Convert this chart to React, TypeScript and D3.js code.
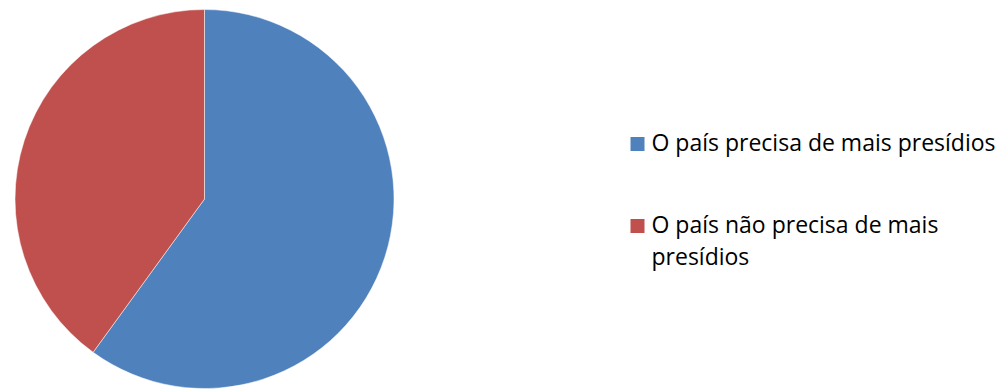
import React from "react";
import * as d3 from "d3";

const categories = ["O país precisa de mais presídios", "O país não precisa de mais presídios"];
const values = [60, 40];
const colors = ["#4F81BD", "#C0504D"];
const legendLines = [["O país precisa de mais presídios"], ["O país não precisa de mais", "presídios"]];

export default function App() {
  const W = 1008, H = 389;
  const cx = 204.5, cy = 199, r = 189.5;
  const pie = d3.pie<number>().sort(null).value((d) => d)(values);
  const arc = d3.arc<d3.PieArcDatum<number>>().innerRadius(0).outerRadius(r);
  const baselines = [151, 233];
  return (
    <svg width={W} height={H} style={{ position: "absolute", left: 0, top: 0 }}>
      <rect width={W} height={H} fill="#fff" />
      <g transform={`translate(${cx},${cy})`}>
        {pie.map((p, i) => (
          <path key={i} d={arc(p) || ""} fill={colors[i]} stroke="#fff" strokeWidth={0.5} />
        ))}
      </g>
      {categories.map((c, i) => (
        <g key={c} transform={`translate(630.5,${baselines[i]})`}>
          <rect x={0} y={-14} width={14} height={14} fill={colors[i]} />
          {legendLines[i].map((t, j) => (
            <text
              key={j}
              x={21}
              y={j * 32}
              fontFamily="'Open Sans', sans-serif"
              fontSize={23}
              fill="#000"
            >
              {t}
            </text>
          ))}
        </g>
      ))}
    </svg>
  );
}
